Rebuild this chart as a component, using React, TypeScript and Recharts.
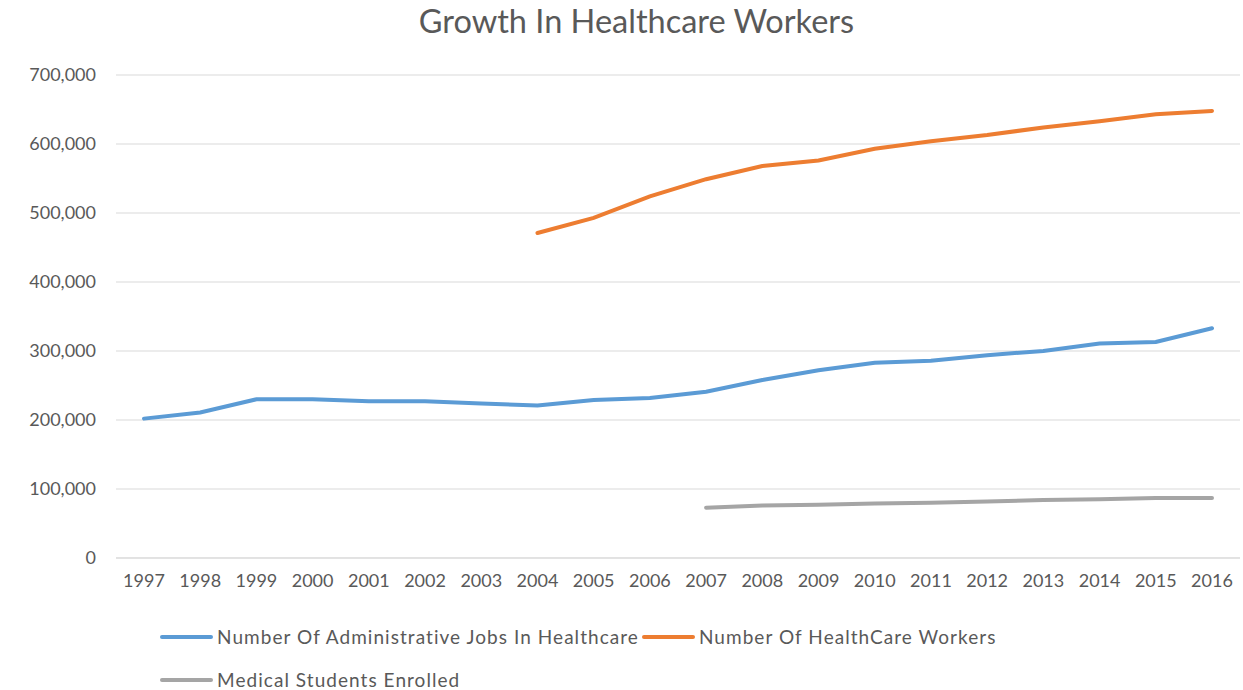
import { LineChart, Line, XAxis, YAxis, CartesianGrid, Legend } from 'recharts'

const years = [
  '1997', '1998', '1999', '2000', '2001', '2002', '2003', '2004', '2005', '2006',
  '2007', '2008', '2009', '2010', '2011', '2012', '2013', '2014', '2015', '2016',
]

const adminJobs = [
  202000, 211000, 230000, 230000, 227000, 227000, 224000, 221000, 229000, 232000,
  241000, 258000, 272000, 283000, 286000, 294000, 300000, 311000, 313000, 333000,
]

const healthWorkers = [
  null, null, null, null, null, null, null, 471000, 493000, 524000,
  549000, 568000, 576000, 593000, 604000, 613000, 624000, 633000, 643000, 648000,
]

const medStudents = [
  null, null, null, null, null, null, null, null, null, null,
  73000, 76000, 77000, 79000, 80000, 82000, 84000, 85000, 87000, 87000,
]

const yTicks = [0, 100000, 200000, 300000, 400000, 500000, 600000, 700000]

const series = [
  { key: 'admin', name: 'Number Of Administrative Jobs In Healthcare', color: '#5B9BD5' },
  { key: 'workers', name: 'Number Of HealthCare Workers', color: '#ED7D31' },
  { key: 'students', name: 'Medical Students Enrolled', color: '#A5A5A5' },
]

const data = years.map((year, i) => ({
  year,
  admin: adminJobs[i],
  workers: healthWorkers[i],
  students: medStudents[i],
}))

const font = 'Lato, "Open Sans", sans-serif'
const textColor = '#595959'

const fmt = (v: number) => (v === 0 ? '0' : v.toLocaleString('en-US'))

// legend laid out like the Excel one: two items on the first row, one below
const LegendBox = () => {
  const item = (s: (typeof series)[number]) => (
    <div key={s.key} style={{ display: 'flex', alignItems: 'center', marginRight: 3 }}>
      <div style={{ width: 53, height: 4, background: s.color, borderRadius: 2, marginRight: 4 }} />
      <span>{s.name}</span>
    </div>
  )
  return (
    <div
      style={{
        fontFamily: font,
        fontSize: 19,
        lineHeight: '22px',
        color: textColor,
        letterSpacing: 1.05,
        whiteSpace: 'nowrap',
      }}
    >
      <div style={{ display: 'flex', height: 43, alignItems: 'center' }}>
        {item(series[0])}
        {item(series[1])}
      </div>
      <div style={{ display: 'flex', height: 43, alignItems: 'center' }}>{item(series[2])}</div>
    </div>
  )
}

export default function App() {
  return (
    <div style={{ position: 'absolute', left: 0, top: 0, width: 1243, height: 690, background: '#fff' }}>
      <div
        style={{
          position: 'absolute',
          top: 1,
          left: 0,
          width: 1273,
          textAlign: 'center',
          fontFamily: font,
          fontSize: 32.5,
          color: textColor,
        }}
      >
        Growth In Healthcare Workers
      </div>
      <LineChart width={1243} height={690} data={data} margin={{ top: 75, right: 3, left: 0, bottom: 0 }}>
        <CartesianGrid vertical={false} stroke="#D9D9D9" strokeWidth={1.2} />
        <XAxis
          dataKey="year"
          axisLine={{ stroke: '#D9D9D9' }}
          tickLine={false}
          tickSize={0}
          tickMargin={16}
          height={46}
          padding={{ left: 28, right: 28 }}
          interval={0}
          tick={{ fill: textColor, fontSize: 18, fontFamily: font }}
        />
        <YAxis
          width={116}
          domain={[0, 700000]}
          ticks={yTicks}
          axisLine={false}
          tickLine={false}
          tickSize={0}
          tickMargin={20}
          tickFormatter={fmt}
          tick={{ fill: textColor, fontSize: 18, fontFamily: font }}
        />
        {series.map((s) => (
          <Line
            key={s.key}
            dataKey={s.key}
            name={s.name}
            stroke={s.color}
            strokeWidth={4}
            dot={false}
            type="linear"
            strokeLinecap="round"
            isAnimationActive={false}
          />
        ))}
        <Legend
          content={<LegendBox />}
          wrapperStyle={{ position: 'absolute', left: 160, top: 615, width: 1000, height: 86 }}
        />
      </LineChart>
    </div>
  )
}
